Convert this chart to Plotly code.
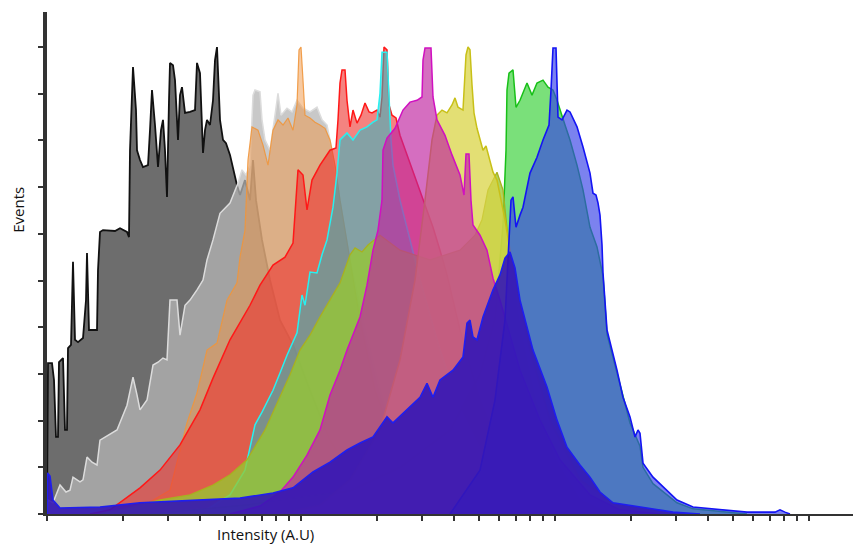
import math
import plotly.graph_objects as go

# x: log-scaled channel number (254 channels per decade), y: % of max events
CH_PER_DECADE = 254

black_ch = [0,1,5,7,9,11,12,16,18,20, 21,24,26,28,31,36,39,40,42,50, 51,53,56,68,73,80,82,83,86,89,
            90,93,96,101,103,105,108,111,114,116, 118,120,122,123,126,128,131,133,135,138,
            143,148,150,153,156,158,160,163,166,168, 170,172,173,176,179,183,186,190,193,198,
            203,206,209,215,223,233,246,263,283,313, 353,403,453]
black_pct = [0,32.3,32.3,28.7,16.5,16.5,32.5,33.4,18.0,18.0, 35.5,36.2,54.0,37.3,36.8,37.7,45.8,55.9,39.4,39.4,
             52.2,60.4,60.8,60.6,61.2,60.4,59.3,77.9,95.7,86.5, 77.9,75.8,74.3,74.7,82.2,90.8,83.3,74.3,82.2,84.4,
             77.9,67.9,88.6,96.6,96.1,92.9,80.1,89.7,91.4,85.9, 86.1,86.5,96.6,94.4,77.3,82.2,84.4,83.3,88.6,97.2,
             100,90.8,84.4,80.1,79.4,76.9,74.1,70.4,68.3,71.5, 67.2,75.8,67.2,58.7,50.1,41.5,36.2,26.5,15.8,6.2,
             1.9,0.4,0]

gray_ch = [0,1,6,13,19,23,26,33,36,40, 45,50,53,61,70,80,86,90,93,100, 106,111,116,120,123,130,133,138,143,150,
           156,160,166,173,183,191,195,199,203,206, 208,213,215,218,223,228,231,234,240,245,
           250,256,263,270,275,280,285,293,303,318, 333,353,373,403,433]
gray_pct = [0,3.0,2.4,6.2,4.7,5.1,7.9,6.9,7.3,12.2, 11.1,10.5,15.8,16.9,18.0,23.3,29.3,25.5,22.3,24.4,
            31.9,32.5,33.4,33.0,45.8,45.8,38.3,44.7,45.8,48.0, 50.1,54.4,58.7,64.4,66.6,70.9,73.7,72.6,74.7,89.7,
            90.8,90.4,84.4,80.1,77.9,85.4,90.1,85.4,86.9,86.1, 88.6,86.9,86.1,87.1,84.4,83.3,77.9,67.2,54.4,39.4,
            26.5,13.7,5.1,1.3,0]

orange_ch = [53,93,123,140,150,160,170,180,190,193, 198,201,205,211,216,221,226,231,236,241,
             246,250,252,254,256,258,263,268,273,278, 283,288,293,303,313,328,353,383,423]
orange_pct = [0,1.3,5.1,19.5,25.9,35.1,36.6,45.8,49.5,55.0, 60.8,75.8,82.9,82.2,79.0,74.7,82.2,84.4,83.3,84.8,
              82.2,87.6,99.4,100,92.9,85.4,84.8,83.9,83.3,82.6, 80.1,74.7,67.2,54.4,41.5,26.5,11.6,3.0,0]

red_ch = [43,63,93,113,133,153,166,183,203,213, 226,238,246,251,256,260,265,273,283,289,
          291,293,295,298,300,303,306,310,314,318, 322,325,330,333,335,337,340,342,345,349,
          353,360,366,376,386,393,400,413,433,453, 483,523,553]
red_pct = [0,0.9,5.6,9.4,14.8,22.3,29.1,37.3,44.7,49.0, 53.3,55.0,58.0,73.7,72.6,65.1,71.5,74.7,77.9,78.4,
           84.4,92.3,95.1,95.1,88.6,82.9,86.5,83.7,85.4,88.0, 86.1,85.9,86.5,85.0,89.3,100,99.4,87.6,85.4,84.8,
           81.1,76.9,73.0,67.2,61.4,56.5,51.2,39.4,24.4,13.7, 5.1,0.9,0]

cyan_ch = [153,183,198,208,215,226,233,240,250,255, 258,263,270,275,280,286,290,293,300,306,
           313,320,326,330,333,335,340,342,344,346, 353,363,373,393,413,443,483,523]
cyan_pct = [0,4.1,9.4,19.1,21.8,26.5,30.2,34.0,38.8,46.9, 44.7,51.8,51.6,55.5,58.7,65.7,73.0,80.1,81.6,80.1,
            82.2,82.9,83.9,84.4,90.1,98.9,98.9,88.6,80.1,74.7, 67.2,58.7,50.1,35.1,22.3,9.4,1.9,0]

green_ch = [103,153,203,253,303,353,403,433,448,456, 459,460,462,466,469,473,476,480,485,490,
            496,501,506,510,518,523,530,536,543,550, 556,560,566,573,583,593,596,606,620,630,
            646,673,700]
green_pct = [0,1.0,2.0,3.5,5.0,10.0,18.0,30.0,42.0,62.0, 77.9,90.8,94.4,95.1,87.1,88.6,90.1,92.3,89.7,92.3,
             92.9,91.4,90.8,88.6,83.3,80.1,74.7,69.4,61.4,57.2, 51.0,38.5,33.5,27.5,19.5,14.5,10.0,6.5,4.2,2.4,
             1.1,0.5,0]

lime_ch = [53,83,113,143,166,183,200,218,233,243, 253,263,273,283,293,303,308,315,321,333,
           353,383,413,428,435,441,450,456,460,465, 473,488,508,533,563]
lime_pct = [0,1.3,3.0,4.1,6.2,8.4,11.6,18.0,25.1,29.8, 35.1,38.3,42.2,45.8,49.5,55.5,57.0,56.1,57.6,59.7,
            56.5,54.4,56.5,59.7,63.0,69.4,73.2,69.4,60.8,51.2, 39.4,24.4,11.6,3.0,0]

yellow_ch = [233,273,303,333,353,368,378,385,390,395, 400,405,408,411,416,419,421,423,425,427,
             430,433,436,439,443,446,450,458,468,483, 503,533,573,613]
yellow_pct = [0,1.9,7.3,18.0,33.0,50.1,67.2,80.1,85.4,86.5, 85.9,87.6,89.1,87.1,86.5,98.3,100,99.4,91.9,85.9,
              82.6,80.1,77.9,78.8,75.8,73.2,71.5,63.0,50.1,35.1, 20.1,7.3,1.3,0]

magenta_ch = [183,213,233,246,260,273,283,293,300,313, 320,326,331,335,336,340,348,356,363,370,
              375,376,378,384,386,390,398,405,413,417, 419,422,424,426,433,440,446,453,473,493,
              513,543,573,613]
magenta_pct = [0,1.7,4.7,7.9,12.6,18.0,25.5,30.8,35.1,42.2, 49.0,56.5,60.8,67.2,77.9,80.5,82.6,86.5,88.2,88.6,
               89.3,97.2,99.8,99.8,89.3,84.4,81.1,76.9,72.6,68.3, 77.1,77.1,67.2,61.9,59.7,56.5,50.5,45.8,30.8,20.1,
               11.6,4.1,0.9,0]

blue_ch = [403,433,448,458,462,464,466,469,473,476, 483,490,496,502,504,506,509,510,511,515,
           520,523,530,536,543,546,549,551,553,555, 556,560,566,570,576,583,588,591,593,596,
           606,620,630,646,673,700,728,733,738,743]
blue_pct = [0,9.4,24.4,41.5,58.7,67.2,67.9,61.4,64.0,65.7, 73.0,76.4,80.1,83.3,90.8,99.8,99.8,90.8,85.0,84.4,
            86.5,86.1,82.9,78.6,73.0,68.7,68.3,66.6,64.0,57.6, 51.6,39.4,34.5,30.8,25.0,20.8,16.5,18.0,17.3,10.9,
            7.9,5.1,3.0,1.5,0.9,0.4,0.4,0.9,0.4,0]

indigo_ch = [0,0.5,3,6,13,53,93,160,193,226, 246,266,283,300,313,326,340,346,360,373,
             380,386,393,406,416,420,423,426,430,436, 446,453,458,463,468,473,486,500,510,520,
             533,543,553,566,600,626,653]
indigo_pct = [0,8.8,8.1,3.0,1.3,1.5,2.4,3.0,3.4,4.5, 5.6,9.0,11.1,13.7,15.2,16.5,20.8,19.5,22.3,25.0,
              28.0,25.0,28.7,30.8,33.6,40.9,41.5,37.9,37.3,42.2, 48.0,51.2,54.8,56.1,52.7,45.8,35.1,27.2,20.1,14.3,
              10.5,7.9,4.7,2.4,1.3,0.4,0]

series = [
    (black_ch, black_pct, "#111111", "rgba(85,85,85,0.86)", 1.8),
    (gray_ch, gray_pct, "#dcdcdc", "rgba(182,182,182,0.75)", 1.5),
    (orange_ch, orange_pct, "rgba(240,150,60,0.9)", "rgba(240,150,70,0.5)", 1.2),
    (red_ch, red_pct, "#ff1818", "rgba(238,55,50,0.62)", 1.5),
    (cyan_ch, cyan_pct, "#28f0f0", "rgba(40,185,195,0.55)", 1.5),
    (green_ch, green_pct, "#18c018", "rgba(85,215,85,0.78)", 1.5),
    (lime_ch, lime_pct, "#a8b020", "rgba(150,200,50,0.78)", 1.3),
    (yellow_ch, yellow_pct, "#c8c018", "rgba(218,212,70,0.75)", 1.5),
    (magenta_ch, magenta_pct, "#d010c0", "rgba(192,35,160,0.66)", 1.5),
    (blue_ch, blue_pct, "#1414f4", "rgba(55,65,230,0.66)", 1.6),
    (indigo_ch, indigo_pct, "#1e1ef0", "rgba(52,22,182,0.9)", 1.6),
]

fig = go.Figure()
for xs, ys, lc, fc, lw in series:
    n = min(len(xs), len(ys))
    fig.add_trace(go.Scatter(x=xs[:n], y=ys[:n], mode="lines", fill="tozeroy",
                             line=dict(color=lc, width=lw), fillcolor=fc,
                             hoverinfo="skip", showlegend=False))

x_tick_values = [v * 10 ** d for d in range(3) for v in range(1, 10)] + [1000]
x_tick_pos = [CH_PER_DECADE * math.log10(v) for v in x_tick_values]

# the page body adds an 8px margin, so the figure is sized/margined to compensate
fig.update_layout(
    width=853, height=544, autosize=False,
    margin=dict(l=39, r=0, t=4, b=38),
    paper_bgcolor="white", plot_bgcolor="white",
    font=dict(family="Open Sans", color="#111"),
    xaxis=dict(range=[0, 814], showgrid=False, zeroline=False, showline=True,
               linecolor="#333", linewidth=2, ticks="outside", ticklen=5,
               tickwidth=1.5, tickcolor="#333", tickvals=x_tick_pos,
               showticklabels=False),
    yaxis=dict(range=[0, 107.5], showgrid=False, zeroline=False, showline=True,
               linecolor="#333", linewidth=4, ticks="outside", ticklen=5,
               tickwidth=1.5, tickcolor="#333", tickvals=list(range(0, 101, 10)),
               showticklabels=False),
    annotations=[
        dict(text="Events", x=-0.0356, y=0.606, xref="paper", yref="paper",
             textangle=-90, showarrow=False, xanchor="center", yanchor="middle",
             font=dict(size=15, family="Open Sans", color="#111")),
        dict(text="Intensity (A.U)", x=0.268, y=-0.04, xref="paper", yref="paper",
             showarrow=False, xanchor="center", yanchor="middle",
             font=dict(size=15, family="Open Sans", color="#111")),
    ],
)

fig.write_html("out.html")
